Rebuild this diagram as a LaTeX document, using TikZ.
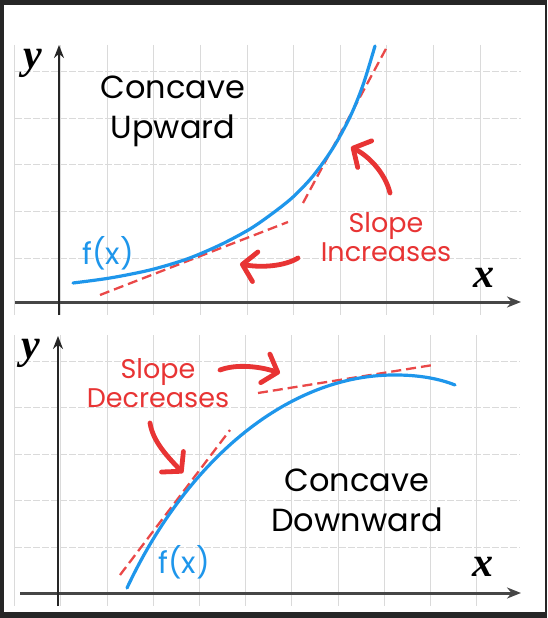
\documentclass[tikz,border=0pt]{standalone}
\usepackage{fontspec}
\setmainfont{Poppins}
\newfontfamily\axisfont{Liberation Serif}
\usetikzlibrary{arrows.meta,positioning,calc}
\definecolor{framedark}{RGB}{38,38,38}
\definecolor{curveblue}{RGB}{30,150,235}
\definecolor{slopered}{RGB}{232,52,52}
\definecolor{gridgray}{RGB}{218,218,218}
\definecolor{axisgray}{RGB}{70,70,70}
\tikzset{
  xaxisline/.style={line width=3pt,color=axisgray,-{Stealth[length=14pt,width=11pt]}},
  yaxisline/.style={line width=2.2pt,color=black!85,-{Stealth[length=13pt,width=10pt]}},
  gridh/.style={line width=0.9pt,color=gridgray,dash pattern=on 7pt off 2pt},
  gridv/.style={line width=1pt,color=gridgray},
  fcurve/.style={line width=3.2pt,color=curveblue,line cap=round},
  tangent/.style={line width=2.3pt,color=slopered!90,dash pattern=on 10pt off 5pt},
  slopearr/.style={line width=4.8pt,color=slopered,line cap=round,
    -{Straight Barb[length=13pt,width=30pt,line width=4.8pt,round]}},
  titletext/.style={font=\fontsize{32}{40}\selectfont,align=center,text=black,inner sep=0pt},
  slopetext/.style={font=\fontsize{27}{29}\selectfont,align=center,text=slopered,inner sep=0pt},
  fxtext/.style={font=\fontsize{30}{32}\selectfont,text=curveblue,inner sep=0pt},
  axislabel/.style={font=\axisfont\bfseries\itshape\fontsize{42}{42}\selectfont,inner sep=0pt,anchor=base}
}

\begin{document}
\begin{tikzpicture}[x=1pt,y=-1pt]

  %% FRAME
  \useasboundingbox (0,0) rectangle (547,618);
  \fill[framedark] (0,0) rectangle (547,618);
  \fill[white] (4,5) rectangle (545,612);

  %% GRID -- TOP PANEL
  \foreach \k in {0,...,10}
    \draw[gridv] ({14+46.6*\k},45) -- ({14+46.6*\k},315);
  \foreach \yy in {71,118,164,211,258}
    \draw[gridh] (15,\yy) -- (521,\yy);

  %% GRID -- BOTTOM PANEL
  \foreach \k in {0,...,10}
    \draw[gridv] ({14.6+46.2*\k},335) -- ({14.6+46.2*\k},606);
  \foreach \yy in {361,407,454,500,547}
    \draw[gridh] (15,\yy) -- (520,\yy);

  %% AXES
  \draw[xaxisline] (15,302) -- (521,302);
  \draw[yaxisline] (59,315) -- (59,45);
  \draw[xaxisline] (20,593) -- (521,593);
  \draw[yaxisline] (58,606) -- (58,336);

  \node[axislabel] (yUp) at (33,68) {y};
  \node[axislabel] (xUp) at (484,287) {x};
  \node[axislabel] (yDown) at (31,358) {y};
  \node[axislabel] (xDown) at (483,576) {x};

  %% TOP PANEL -- CONCAVE UPWARD
  \draw[tangent] (100,295) -- (288,222);
  \draw[tangent] (303,203) -- (388,45);
  \draw[fcurve] plot[smooth] coordinates {(73,283) (110,278) (150,270) (187,259)
    (220,245) (250,229) (273,213) (293,197) (313,176) (333,148) (350,117) (363,85) (375,46)};

  \node[titletext] (titleUp) at (173,111) {Concave\\Upward};
  \node[fxtext] (fxUp) at (108,253) {f(x)};
  \node[slopetext] (slopeInc) at (386,237) {Slope\\Increases};

  \coordinate (incTailA) at (298,258);
  \coordinate (incTipA) at (240,264);
  \coordinate (incTailB) at (390,193);
  \coordinate (incTipB) at (351,147);
  \draw[slopearr] (incTailA) .. controls (285,266) and (262,268) .. (incTipA);
  \draw[slopearr] (incTailB) .. controls (386,176) and (372,158) .. (incTipB);

  %% BOTTOM PANEL -- CONCAVE DOWNWARD
  \draw[tangent] (120,575) -- (230,430);
  \draw[tangent] (258,393) -- (433,365);
  \draw[fcurve] (127,588) .. controls (188,458) and (290,374) .. (396,375)
    .. controls (420,375) and (440,379) .. (455,385);

  \node[titletext] (titleDown) at (357,500) {Concave\\Downward};
  \node[fxtext] (fxDown) at (184,562) {f(x)};
  \node[slopetext] (slopeDec) at (158,383) {Slope\\Decreases};

  \coordinate (decTailA) at (220,370);
  \coordinate (decTipA) at (280,373);
  \coordinate (decTailB) at (150,423);
  \coordinate (decTipB) at (183,473);
  \draw[slopearr] (decTailA) .. controls (236,364) and (258,366) .. (decTipA);
  \draw[slopearr] (decTailB) .. controls (153,442) and (168,457) .. (decTipB);
\end{tikzpicture}
\end{document}
